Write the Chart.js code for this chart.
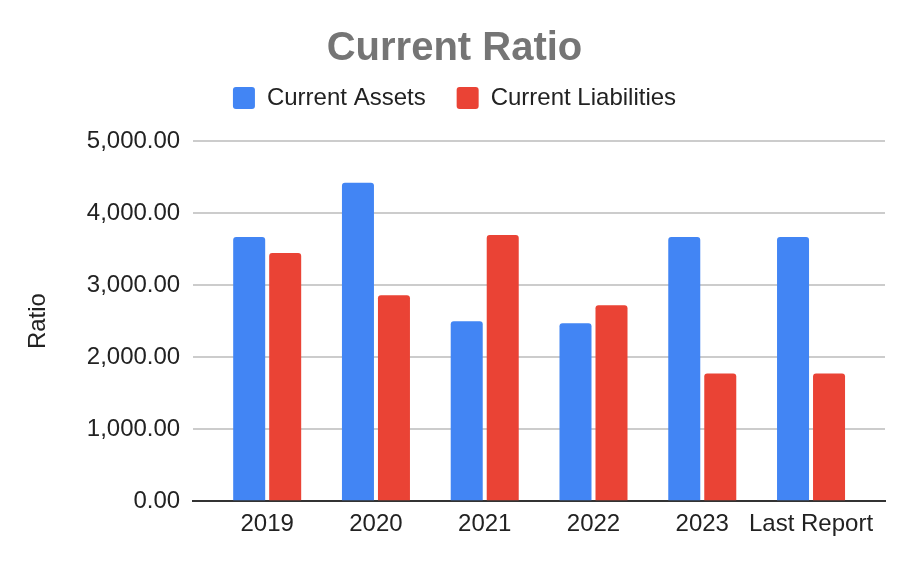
<!DOCTYPE html>
<html>
<head>
<meta charset="utf-8">
<script src="https://cdn.jsdelivr.net/npm/chart.js@4/dist/chart.umd.min.js"></script>
<style>
  html, body { margin: 0; padding: 0; background: #fff; }
  #wrap { width: 914px; height: 563px; position: relative; }
</style>
</head>
<body>
<div id="wrap"><canvas id="chart"></canvas></div>
<script>
// values
const years = ['2019', '2020', '2021', '2022', '2023', 'Last Report'];
const currentAssets = [3668, 4421, 2497, 2469, 3668, 3668];
const currentLiabilities = [3445, 2859, 3696, 2720, 1771, 1771];
const yTicks = [0, 1000, 2000, 3000, 4000, 5000];

const FONT = "'Liberation Sans', Arial, sans-serif";

// bars sit on a numeric x axis (0..5) so the plot can keep some inner margin like the original
const toPoints = (arr) => arr.map((v, i) => ({ x: i, y: v }));

// extra space between the legend and the plot
const legendGap = {
    id: 'legendGap',
    beforeInit(chart) {
        const fit = chart.legend.fit;
        chart.legend.fit = function() {
            fit.bind(chart.legend)();
            this.height += 21;
        };
    }
};

const ctx = document.getElementById('chart');
const chart = new Chart(ctx, {
    type: 'bar',
    data: {
        datasets: [{
            label: 'Current Assets',
            data: toPoints(currentAssets),
            backgroundColor: '#4285F4',
            borderRadius: { topLeft: 3, topRight: 3 },
            borderSkipped: 'bottom'
        }, {
            label: 'Current Liabilities',
            data: toPoints(currentLiabilities),
            backgroundColor: '#EA4335',
            borderRadius: { topLeft: 3, topRight: 3 },
            borderSkipped: 'bottom'
        }]
    },
    plugins: [legendGap],
    options: {
        responsive: true,
        maintainAspectRatio: false,
        animation: false,
        devicePixelRatio: 1,
        datasets: {
            bar: { categoryPercentage: 0.662, barPercentage: 0.889 }
        },
        layout: {
            padding: { left: 24, right: 29, top: 0, bottom: 15 }
        },
        plugins: {
            title: {
                display: true,
                text: 'Current Ratio',
                color: '#757575',
                font: { family: FONT, size: 40, weight: 'bold' },
                padding: { top: 25, bottom: -18 }
            },
            legend: {
                position: 'top',
                labels: {
                    color: '#222',
                    font: { family: FONT, size: 24 },
                    boxWidth: 22,
                    boxHeight: 22,
                    useBorderRadius: true,
                    borderRadius: 3,
                    padding: 31
                }
            },
            tooltip: { enabled: false }
        },
        scales: {
            x: {
                type: 'linear',
                offset: false,
                min: -0.68,
                max: 5.68,
                afterBuildTicks: function(scale) {
                    scale.ticks = years.map((_, i) => ({ value: i }));
                },
                grid: { display: false, drawTicks: false },
                border: { display: true, color: '#333', width: 2 },
                ticks: {
                    color: '#222',
                    font: { family: FONT, size: 24 },
                    padding: 9,
                    maxRotation: 0,
                    autoSkip: false,
                    callback: function(v) { return years[v]; }
                }
            },
            y: {
                min: 0,
                max: 5000,
                afterBuildTicks: function(scale) {
                    scale.ticks = yTicks.map(v => ({ value: v }));
                },
                grid: { color: '#cccccc', lineWidth: 2, drawTicks: false },
                border: { display: false },
                ticks: {
                    color: '#222',
                    font: { family: FONT, size: 24 },
                    padding: 13,
                    callback: function(v) {
                        return Number(v).toLocaleString('en-US', { minimumFractionDigits: 2, maximumFractionDigits: 2 });
                    }
                },
                title: {
                    display: true,
                    text: 'Ratio',
                    color: '#222',
                    font: { family: FONT, size: 24 },
                    padding: { top: 0, bottom: 21 }
                }
            }
        }
    }
});
</script>
</body>
</html>
